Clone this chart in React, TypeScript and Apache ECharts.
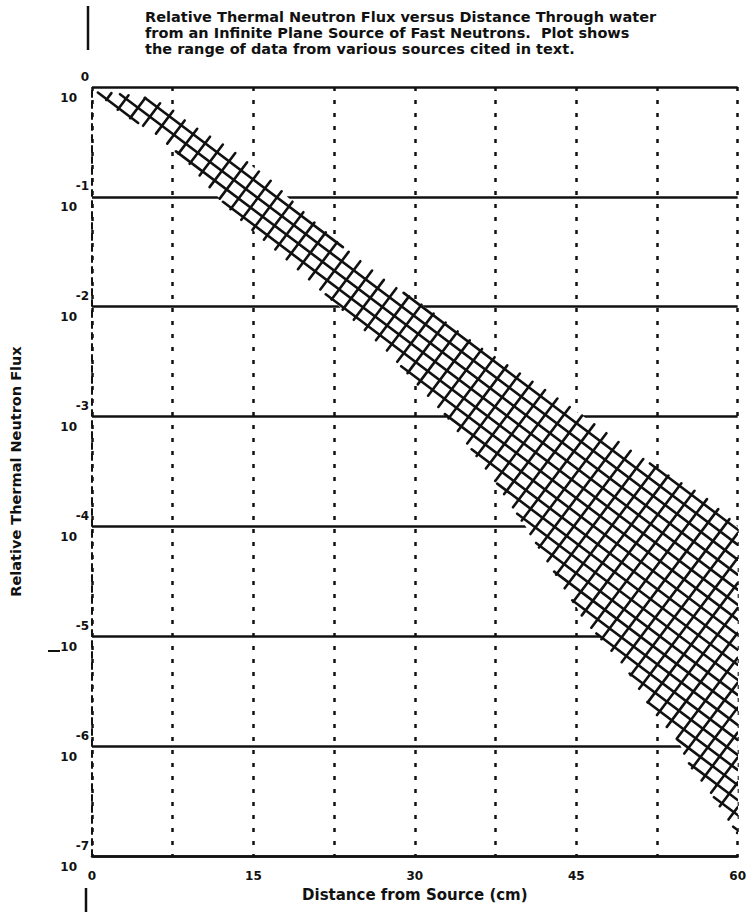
import React, { useEffect, useRef } from "react";
import * as echarts from "echarts";

// Upper edge of the data band (distance cm, relative flux)
const upperX = [1.0, 4.7, 6.2, 7.1, 8.9, 12.9, 16.6, 20.6, 23.6, 27.3, 30.3, 35.8, 41.9, 45.8, 49.9, 53.8, 56.8, 60.0];
const upperFlux = [0.9, 0.81, 0.72, 0.66, 0.47, 0.27, 0.14, 0.059, 0.033, 0.017, 0.011, 0.0044, 0.0018, 0.00098, 0.0005, 0.00028, 0.00019, 0.0001];

// Lower edge of the data band
const lowerX = [0.5, 2.8, 5.9, 9.0, 11.7, 14.2, 18.5, 23.0, 27.3, 33.0, 37.6, 40.3, 45.8, 47.1, 49.5, 52.0, 54.4, 55.6, 57.5, 60.0];
const lowerFlux = [0.89, 0.575, 0.38, 0.204, 0.1, 0.0575, 0.025, 0.01, 0.0041, 0.001, 0.00025, 0.0001, 0.000014, 0.00001, 0.0000054, 0.0000022, 0.00000115, 0.00000066, 0.00000038, 0.00000016];

const xLabelValues = [0, 15, 30, 45, 60];

const titleLines = [
  "Relative Thermal Neutron Flux versus Distance Through water",
  "from an Infinite Plane Source of Fast Neutrons.  Plot shows",
  "the range of data from various sources cited in text.",
];

const FONT = "DejaVu Sans";
const INK = "#111";

type Pt = number[];

function clipLine(poly: Pt[], nx: number, ny: number, c: number, dx: number, dy: number) {
  const ts: number[] = [];
  for (let i = 0; i < poly.length; i++) {
    const a = poly[i];
    const b = poly[(i + 1) % poly.length];
    const sa = nx * a[0] + ny * a[1] - c;
    const sb = nx * b[0] + ny * b[1] - c;
    if ((sa < 0 && sb >= 0) || (sa >= 0 && sb < 0)) {
      const t = sa / (sa - sb);
      const px = a[0] + (b[0] - a[0]) * t;
      const py = a[1] + (b[1] - a[1]) * t;
      ts.push(dx * px + dy * py);
    }
  }
  ts.sort((p, q) => p - q);
  const segs: number[][] = [];
  for (let i = 0; i + 1 < ts.length; i += 2) {
    const t0 = ts[i];
    const t1 = ts[i + 1];
    segs.push([nx * c + dx * t0, ny * c + dy * t0, nx * c + dx * t1, ny * c + dy * t1]);
  }
  return segs;
}

function hatch(poly: Pt[], angleDeg: number, spacing: number, phase: number) {
  const th = (angleDeg * Math.PI) / 180;
  const dx = Math.cos(th);
  const dy = Math.sin(th);
  const nx = -dy;
  const ny = dx;
  let mn = Infinity;
  let mx = -Infinity;
  poly.forEach((p) => {
    const v = nx * p[0] + ny * p[1];
    if (v < mn) mn = v;
    if (v > mx) mx = v;
  });
  const out: number[][] = [];
  for (let c = Math.floor(mn / spacing) * spacing + phase; c < mx; c += spacing) {
    clipLine(poly, nx, ny, c, dx, dy).forEach((s) => out.push(s));
  }
  return out;
}

export default function App() {
  const ref = useRef<HTMLDivElement>(null);

  useEffect(() => {
    document.body.style.margin = "0";
    if (!ref.current) return;
    const chart = echarts.init(ref.current, null, { renderer: "svg" });

    const renderBand = (_params: any, api: any) => {
      const up = upperX.map((x, i) => api.coord([x, upperFlux[i]]));
      const lo = lowerX.map((x, i) => api.coord([x, lowerFlux[i]]));
      const poly: Pt[] = [...up, ...lo.slice().reverse()];
      const lines = [...hatch(poly, 37, 12, 3), ...hatch(poly, 37 + 90, 15, 5)];
      return {
        type: "group",
        children: [
          {
            type: "polygon",
            shape: { points: poly },
            style: { fill: "#fff", stroke: null },
          },
          ...lines.map((s) => ({
            type: "line",
            shape: { x1: s[0], y1: s[1], x2: s[2], y2: s[3] },
            style: { stroke: INK, lineWidth: 2.6, lineCap: "round" },
          })),
        ],
      };
    };

    const option: any = {
      animation: false,
      backgroundColor: "#fff",
      grid: { left: 92, top: 87, width: 656, height: 769, containLabel: false },
      xAxis: {
        type: "value",
        min: 0,
        max: 60,
        interval: 7.5,
        name: "Distance from Source (cm)",
        nameLocation: "middle",
        nameGap: 31,
        nameTextStyle: { fontFamily: FONT, fontWeight: "bold", fontSize: 15, color: INK },
        axisLine: { show: true, lineStyle: { color: INK, width: 2.5 } },
        axisTick: { show: false },
        axisLabel: {
          margin: 14,
          fontFamily: FONT,
          fontWeight: "bold",
          fontSize: 12,
          color: INK,
          formatter: (v: number) => (xLabelValues.indexOf(v) >= 0 ? String(v) : ""),
        },
        splitLine: { show: true, lineStyle: { color: INK, width: 2.5, type: [4, 9] } },
      },
      yAxis: {
        type: "log",
        logBase: 10,
        min: 1e-7,
        max: 1,
        name: "Relative Thermal Neutron Flux",
        nameLocation: "middle",
        nameGap: 69,
        nameTextStyle: { fontFamily: FONT, fontWeight: "bold", fontSize: 14.5, color: INK },
        axisLine: { show: true, lineStyle: { color: INK, width: 2, type: [6, 5] } },
        axisTick: { show: false },
        axisLabel: {
          margin: 3,
          color: INK,
          formatter: (v: number) => {
            const e = Math.round(Math.log10(v));
            return `{e|${e}}\n{b|10}`;
          },
          rich: {
            e: { fontFamily: FONT, fontWeight: "bold", fontSize: 12, lineHeight: 21, color: INK },
            b: { fontFamily: FONT, fontWeight: "bold", fontSize: 12, lineHeight: 21, color: INK, padding: [0, 12, 0, 0] },
          },
        },
        splitLine: { show: true, lineStyle: { color: INK, width: 2.6, type: "solid" } },
      },
      series: [
        {
          type: "custom",
          clip: true,
          renderItem: renderBand,
          data: [[0, 1]],
          z: 5,
        },
      ],
      graphic: [
        ...titleLines.map((t, i) => ({
          type: "text",
          left: 145,
          top: 9 + i * 16,
          style: { text: t, fontFamily: FONT, fontWeight: "bold", fontSize: 14.5, fill: INK },
        })),
        { type: "line", shape: { x1: 88, y1: 6, x2: 88, y2: 50 }, style: { stroke: INK, lineWidth: 2.5 } },
        { type: "line", shape: { x1: 86, y1: 888, x2: 86, y2: 912 }, style: { stroke: INK, lineWidth: 2.5 } },
        { type: "line", shape: { x1: 48, y1: 651, x2: 60, y2: 651 }, style: { stroke: INK, lineWidth: 2 } },
      ],
    };

    chart.setOption(option);
    return () => chart.dispose();
  }, []);

  return <div ref={ref} style={{ width: 749, height: 912 }} />;
}
